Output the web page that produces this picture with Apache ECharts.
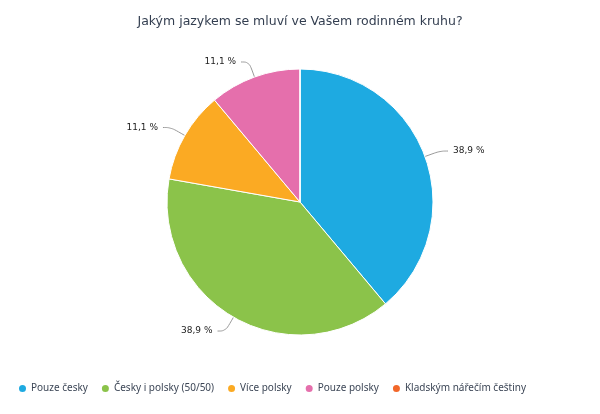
<!DOCTYPE html>
<html><head><meta charset="utf-8">
<script src="https://cdn.jsdelivr.net/npm/echarts@6/dist/echarts.min.js"></script>
<style>html,body{margin:0;padding:0;background:#fff}#c{width:600px;height:414px}</style>
</head><body><div id="c"></div>
<script>
var title = 'Jakým jazykem se mluví ve Vašem rodinném kruhu?';
var categories = ['Pouze česky', 'Česky i polsky (50/50)', 'Více polsky', 'Pouze polsky', 'Kladským nářečím češtiny'];
var values = [7, 7, 2, 2, 0];
var colors = ['#1eaae1', '#8bc34a', '#fbaa23', '#e56fac', '#f2672a'];

var data = categories.map(function (name, i) {
  var d = { name: name, value: values[i], itemStyle: { color: colors[i] } };
  if (values[i] === 0) { d.label = { show: false }; d.labelLine = { show: false }; }
  return d;
});
var chart = echarts.init(document.getElementById('c'));
chart.setOption({
  animation: false,
  title: { text: title, left: 'center', top: 10, textStyle: { fontFamily: 'DejaVu Sans', fontSize: 12.5, fontWeight: 'normal', color: '#333e50' } },
  legend: {
    bottom: 20, left: 17, icon: 'circle', itemWidth: 9, itemHeight: 9, itemGap: 12, padding: 0,
    textStyle: { fontFamily: 'Noto Sans', fontSize: 10, color: '#3c4656', padding: [0, 0, 0, -1] },
    data: categories
  },
  series: [{
    type: 'pie', center: [300, 202], radius: 133, startAngle: 90, clockwise: true,
    percentPrecision: 1,
    itemStyle: { borderColor: '#fff', borderWidth: 1 },
    label: {
      fontFamily: 'DejaVu Sans', fontSize: 9, color: '#222',
      formatter: function (p) { return String(p.percent.toFixed(1)).replace('.', ',') + ' %'; }
    },
    labelLine: { length: 16, length2: 8, smooth: 0.4, lineStyle: { color: '#999', width: 1 } },
    data: data
  }]
});
</script></body></html>
